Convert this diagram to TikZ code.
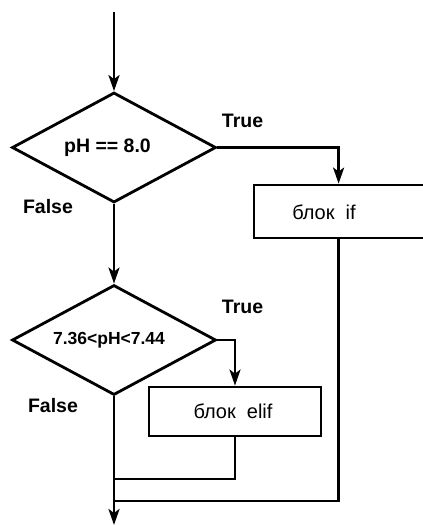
\documentclass[tikz,border=0pt]{standalone}
\usepackage{fontspec}
\setmainfont{Liberation Sans}
\usetikzlibrary{shapes.geometric,arrows.meta}
\begin{document}
\begin{tikzpicture}[x=1pt,y=-1pt,
  line width=2.8pt,
  arr/.style={-{Stealth[length=16pt,width=11pt,inset=4pt]}},
  cond/.style={draw,diamond,minimum width=204pt,minimum height=110pt,inner sep=0pt,aspect=1.85},
  blockbox/.style={draw,rectangle,inner sep=0pt},
  lbl/.style={font=\fontsize{19.5}{22}\selectfont\bfseries,inner sep=0pt},
  btxt/.style={font=\fontsize{20}{24}\selectfont,inner sep=0pt}]
\useasboundingbox (0,0) rectangle (423,525);
\clip (0,0) rectangle (423,525);
\coordinate (start) at (114,12);
\node[cond] (d1) at (114,147.5) {};
\node[lbl] (t1) at (107.5,148) {pH == 8.0};
\node[cond] (d2) at (114,340) {};
\node[lbl,font=\fontsize{17.5}{20}\selectfont\bfseries] (t2) at (109,340) {7.36<pH<7.44};
\node[blockbox,minimum width=230pt,minimum height=53pt] (bif) at (369,211.5) {};
\node[btxt] (tif) at (324,212) {блок\ \ if};
\node[blockbox,minimum width=172pt,minimum height=49pt] (belif) at (235,411.5) {};
\node[btxt] (telif) at (233,411) {блок\ \ elif};
\node[lbl] (true1) at (242.5,121) {True};
\node[lbl] (false1) at (48,207) {False};
\node[lbl] (true2) at (242.5,307) {True};
\node[lbl] (false2) at (53,406) {False};
\coordinate (j1) at (114,479);
\coordinate (j2) at (114,501);
\coordinate (finish) at (114,525);
\draw[arr] (start) -- (d1.north);
\draw[arr] (d1.east) -| ([xshift=86pt]bif.north west);
\draw[arr] (d1.south) -- (d2.north);
\draw[arr] (d2.east) -| (belif.north);
\draw (belif.south) |- (j1);
\draw ([xshift=86pt]bif.south west) |- (j2);
\draw[arr] (d2.south) -- (finish);
\end{tikzpicture}
\end{document}
